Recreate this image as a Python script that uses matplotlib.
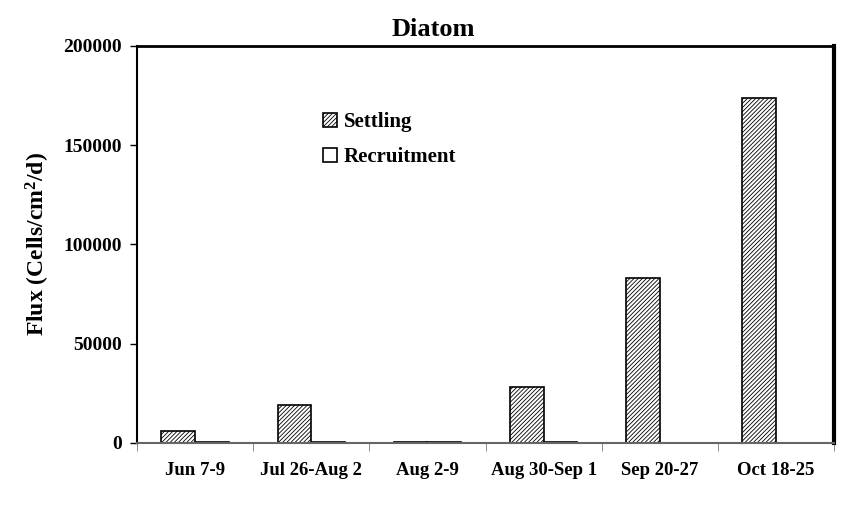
import matplotlib
matplotlib.use("Agg")
import matplotlib.pyplot as plt
import numpy as np

categories = ["Jun 7-9", "Jul 26-Aug 2", "Aug 2-9", "Aug 30-Sep 1", "Sep 20-27", "Oct 18-25"]
settling = [6000, 19000, 500, 28000, 83000, 174000]
recruitment = [500, 500, 500, 500, 100, 100]

plt.rcParams['font.family'] = ['Liberation Serif', 'DejaVu Serif']
plt.rcParams['font.weight'] = 'bold'
plt.rcParams['mathtext.fontset'] = 'custom'
plt.rcParams['mathtext.rm'] = 'Liberation Serif:bold'
plt.rcParams['mathtext.bf'] = 'Liberation Serif:bold'
plt.rcParams['mathtext.default'] = 'bf'
plt.rcParams['hatch.color'] = '#5f82a6'
plt.rcParams['hatch.linewidth'] = 0.6

fig = plt.figure(figsize=(8.67, 5.18), dpi=100)
ax = fig.add_axes([0.158, 0.1448, 0.804, 0.7664])

x = np.arange(len(categories))
w = 0.29
ax.bar(x - w/2, settling, w, facecolor='white', edgecolor='black', hatch='////////', linewidth=1.2, label='Settling')
ax.bar(x + w/2, recruitment, w, facecolor='white', edgecolor='black', linewidth=1.2, label='Recruitment')

ax.set_xlim(-0.5, len(categories) - 0.5)
ax.set_ylim(0, 200000)
ax.set_yticks([0, 50000, 100000, 150000, 200000])
ax.set_xticks(x)
ax.set_xticklabels(categories, fontsize=13.5, fontweight='bold')
ax.set_xticks(np.arange(len(categories) + 1) - 0.5, minor=True)
ax.tick_params(axis='x', which='major', length=0, pad=14)
ax.tick_params(axis='x', which='minor', length=6, color='#777777', direction='out')
ax.tick_params(axis='y', length=5, width=1, labelsize=14, direction='out', pad=6)
for lab in ax.get_yticklabels():
    lab.set_fontweight('bold')

ax.spines['left'].set_linewidth(1.5)
ax.spines['top'].set_linewidth(2)
ax.spines['right'].set_linewidth(3)
ax.spines['bottom'].set_color('#666666')
ax.spines['bottom'].set_linewidth(1.5)

fig.text(0.5, 0.944, "Diatom", fontsize=19, fontweight='bold', ha='center', va='center')
ax.set_ylabel("Flux (Cells/cm$^{2}$/d)", fontsize=17, fontweight='bold', labelpad=8)

ax.legend(loc='upper left', bbox_to_anchor=(0.24, 0.88), frameon=False,
          prop={'weight': 'bold', 'size': 15}, handlelength=0.65, handleheight=0.65,
          handletextpad=0.35, labelspacing=0.7)

fig.savefig("out.png", dpi=100)
